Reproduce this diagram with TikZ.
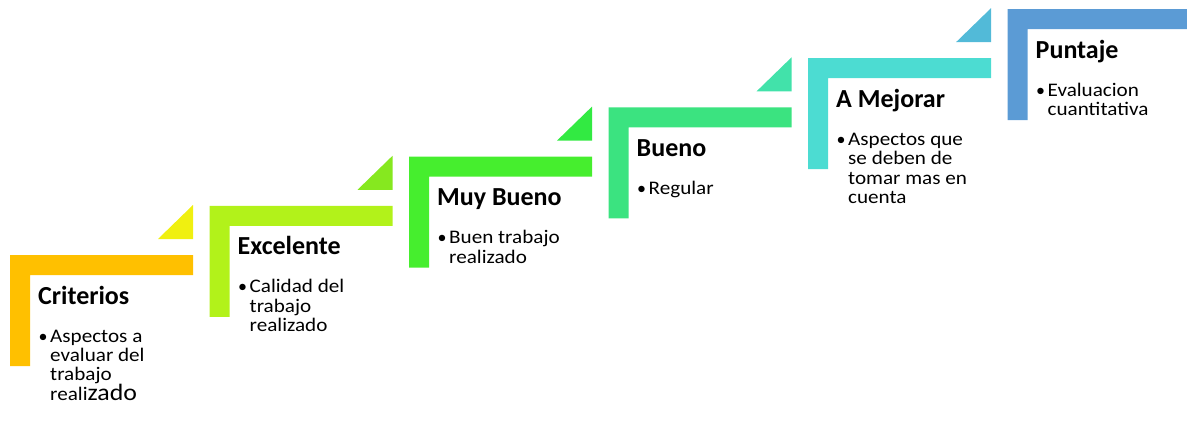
\documentclass[tikz,border=0pt]{standalone}
\usepackage{fontspec}
\setmainfont{Carlito}
\newfontfamily\bodyfont[FakeStretch=1.1]{Carlito}
\definecolor{cA}{HTML}{FFC000}
\definecolor{tA}{HTML}{F0F010}
\definecolor{cB}{HTML}{B2F21A}
\definecolor{tB}{HTML}{86E81F}
\definecolor{cC}{HTML}{46EE2E}
\definecolor{tC}{HTML}{32EA42}
\definecolor{cD}{HTML}{3BE380}
\definecolor{tD}{HTML}{42E2AA}
\definecolor{cE}{HTML}{4CDCD2}
\definecolor{tE}{HTML}{52BAD8}
\definecolor{cF}{HTML}{5B9BD5}
\newcommand\mkstep[6]{%
  \fill[#4] (#2,#3) -- ++(183,0) -- ++(0,20) -- ++(-163,0) -- ++(0,91) -- ++(-20,0) -- cycle;
  \node[ttl] (title#1) at (#2+28,#3+49) {#5};
  \node[bultxt] (bul#1) at (#2+37,#3+87) {\llap{•}};
  \node[bodytxt] (txt#1) at (#2+40,#3+87) {\vtop{\baselineskip=19.4pt\lineskiplimit=-100pt\lineskip=0pt\halign{##\hfil\cr #6\cr}}};
}
\newcommand\mktri[4]{%
  \fill[#4] (#2-35,#3-16) -- (#2,#3-50) -- (#2,#3-16) -- cycle;
}
\begin{document}
\begin{tikzpicture}[x=1pt,y=-1pt,
  ttl/.style={anchor=base west, inner sep=0pt, font=\fontsize{26}{30}\selectfont\bfseries},
  bodytxt/.style={anchor=base west, inner sep=0pt, font=\bodyfont\fontsize{19.2}{19.4}\selectfont},
  bultxt/.style={anchor=base west, inner sep=0pt, font=\fontsize{18}{19}\selectfont}]
\useasboundingbox (0,0) rectangle (1187,421);
\mktri{1}{193}{255}{tA}
\mktri{2}{392.5}{205.8}{tB}
\mktri{3}{592}{156.6}{tC}
\mktri{4}{791.5}{107.4}{tD}
\mktri{5}{991}{58.2}{tE}
\mkstep{1}{10}{255}{cA}{Criterios}{Aspectos a\cr evaluar del\cr trabajo\cr reali{\fontsize{23.5}{19.4}\selectfont zado}}
\mkstep{2}{209.5}{205.8}{cB}{Excelente}{Calidad del\cr trabajo\cr realizado}
\mkstep{3}{409}{156.6}{cC}{Muy Bueno}{Buen trabajo\cr realizado}
\mkstep{4}{608.5}{107.4}{cD}{Bueno}{Regular}
\mkstep{5}{808}{58.2}{cE}{A Mejorar}{Aspectos que\cr se deben de\cr tomar mas en\cr cuenta}
\mkstep{6}{1007.5}{9}{cF}{Puntaje}{Evaluacion\cr cuantitativa}
\end{tikzpicture}
\end{document}
